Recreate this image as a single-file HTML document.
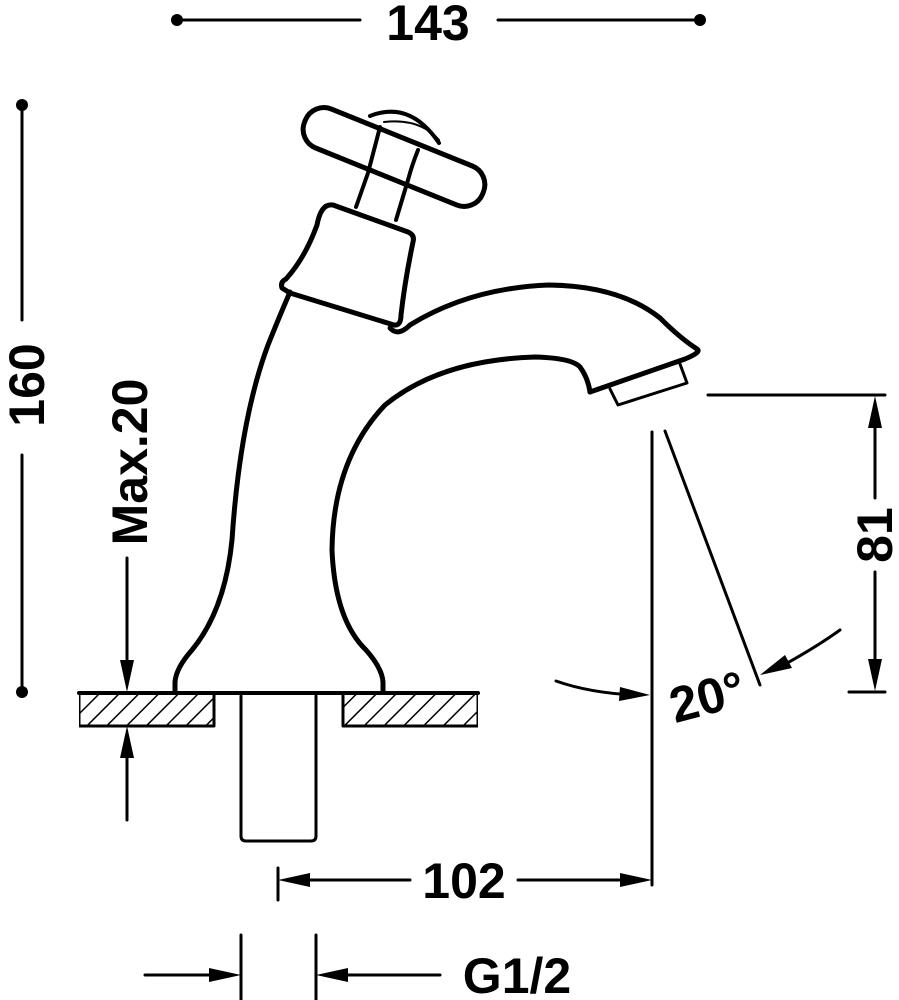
<!DOCTYPE html>
<html><head><style>
html,body{margin:0;padding:0;background:#fff;}
svg{display:block}
text{font-family:"Liberation Sans",Arial,sans-serif;font-weight:bold;fill:#000}
</style></head><body>
<svg width="899" height="1000" viewBox="0 0 899 1000" xmlns="http://www.w3.org/2000/svg">
<defs>
<pattern id="h" width="14" height="14" patternUnits="userSpaceOnUse" patternTransform="rotate(45)">
<line x1="0" y1="0" x2="0" y2="14" stroke="#000" stroke-width="3"/>
</pattern>
</defs>
<g fill="none" stroke="#000" stroke-linejoin="round" stroke-linecap="round">
<line x1="177" y1="20" x2="360" y2="20" stroke-width="3"/>
<line x1="498" y1="20" x2="700" y2="20" stroke-width="3"/>
<line x1="22" y1="105" x2="22" y2="320" stroke-width="3"/>
<line x1="22" y1="455" x2="22" y2="692" stroke-width="3"/>
<line x1="127" y1="558" x2="127" y2="665" stroke-width="3"/>
<line x1="127" y1="755" x2="127" y2="820" stroke-width="3"/>
<rect x="79" y="693" width="135" height="33" fill="url(#h)" stroke-width="3"/>
<rect x="343" y="693" width="135" height="33" fill="url(#h)" stroke-width="3"/>
<rect x="75" y="680" width="4" height="50" fill="#fff" stroke="none"/>
<rect x="478" y="680" width="5" height="50" fill="#fff" stroke="none"/>
<line x1="79" y1="693" x2="478" y2="693" stroke-width="4"/>
<path d="M241,696 V836 Q241,841 246,841 H311 Q316,841 316,836 V696" stroke-width="3"/>
<path d="M175,692 V682 Q176,668 192,650 Q225,610 232,540 Q240,420 268,345 Q280,315 290,292" stroke-width="5"/>
<path d="M383,692 V682 Q382,668 366,650 Q335,620 332,550 Q333,460 385,405 Q440,360 535,357 Q572,358 580,367 Q588,378 590,392" stroke-width="5"/>
<path d="M590,392 L685,359 Q702,352 697,349 Q680,338 660,318 Q620,286 549,285 Q470,288 410,325 Q398,337 390,328" stroke-width="5"/>
<path d="M610,389 L618,405 L687,383 L680,364" stroke-width="3"/>
<path d="M290,293 L282,288 Q280,282 286,279 Q305,258 317,225 Q321,203 333,205 L408,232 Q415,235 413,242 Q405,280 401,315 Q401,326 394,325 Z" stroke-width="5"/>
<path d="M356,207 L368,173 Q374,150 380,127" stroke-width="4"/>
<path d="M396,220 L408,180 Q412,165 418,150" stroke-width="4"/>
<path d="M370,116 Q410,100 439,143" stroke-width="4"/>
<path d="M384,122 Q420,118 439,140" stroke-width="2"/>
<g transform="translate(394,157) rotate(22)">
<rect x="-96" y="-21" width="192" height="42" rx="20" stroke-width="5"/>
</g>
<line x1="652" y1="432" x2="652" y2="885" stroke-width="3"/>
<line x1="665" y1="431" x2="760" y2="685" stroke-width="3"/>
<path d="M556,681 Q590,693 635,695" stroke-width="3"/>
<path d="M840,630 Q815,648 780,667" stroke-width="3"/>
<line x1="708" y1="395" x2="885" y2="395" stroke-width="3"/>
<line x1="849" y1="692" x2="885" y2="692" stroke-width="3"/>
<line x1="875" y1="420" x2="875" y2="498" stroke-width="3"/>
<line x1="875" y1="572" x2="875" y2="665" stroke-width="3"/>
<line x1="278" y1="868" x2="278" y2="900" stroke-width="3"/>
<line x1="300" y1="880" x2="410" y2="880" stroke-width="3"/>
<line x1="518" y1="880" x2="630" y2="880" stroke-width="3"/>
<line x1="241" y1="935" x2="241" y2="1000" stroke-width="3"/>
<line x1="316" y1="935" x2="316" y2="1000" stroke-width="3"/>
<line x1="145" y1="975" x2="220" y2="975" stroke-width="3"/>
<line x1="338" y1="975" x2="440" y2="975" stroke-width="3"/>
</g>
<g fill="#000">
<circle cx="177" cy="20" r="6"/><circle cx="700" cy="20" r="6"/>
<circle cx="22" cy="105" r="6"/><circle cx="22" cy="692" r="6"/>
<polygon points="127,692 120,660 134,660"/>
<polygon points="127,726 120,758 134,758"/>
<polygon points="875,396 868,428 882,428"/>
<polygon points="875,691 868,659 882,659"/>
<polygon points="278,880 310,873 310,887"/>
<polygon points="652,880 620,873 620,887"/>
<polygon points="241,975 209,968 209,982"/>
<polygon points="316,975 348,968 348,982"/>
<polygon points="650,695 620,687 619,701"/>
<polygon points="760,675 785,655 792,668"/>
</g>
<text x="428" y="40" font-size="50" text-anchor="middle">143</text>
<text x="464" y="898" font-size="50" text-anchor="middle">102</text>
<text x="517" y="993" font-size="50" text-anchor="middle">G1/2</text>
<text x="708" y="714" font-size="50" text-anchor="middle" transform="rotate(-15 708 700)">20°</text>
<text transform="translate(44,385) rotate(-90)" font-size="50" text-anchor="middle">160</text>
<text transform="translate(147,462) rotate(-90)" font-size="50" text-anchor="middle">Max.20</text>
<text transform="translate(892,535) rotate(-90)" font-size="50" text-anchor="middle">81</text>
</svg>
</body></html>
